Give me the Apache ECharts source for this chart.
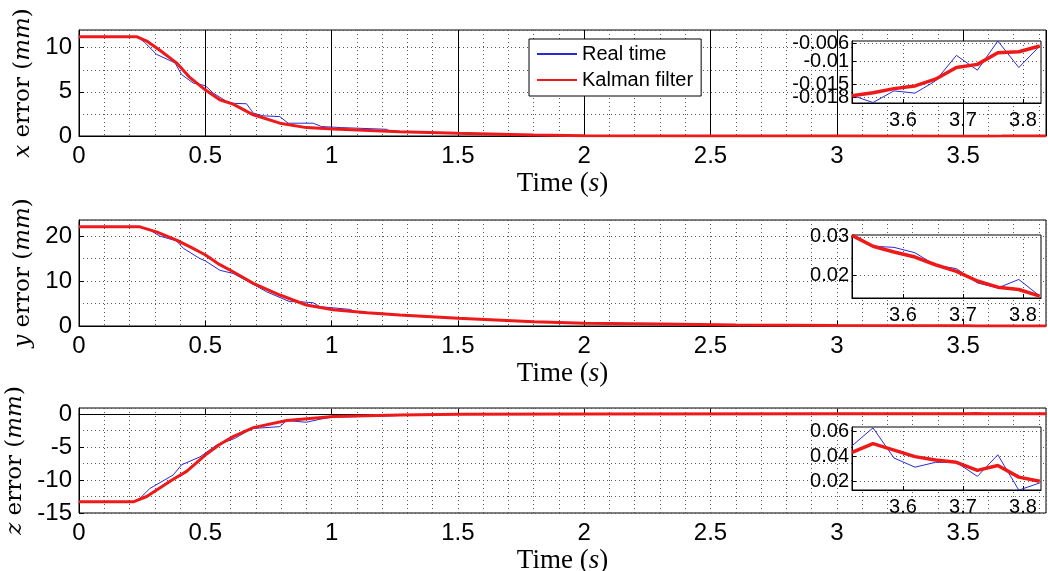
<!DOCTYPE html>
<html>
<head>
<meta charset="utf-8">
<script src="https://cdn.jsdelivr.net/npm/echarts@6/dist/echarts.min.js"></script>
<style>html,body{margin:0;padding:0;background:#fff;}#c{width:1048px;height:571px;}</style>
</head>
<body>
<div id="c"></div>
<script>
// ---------- DATA ----------
// inset (tail) time samples
var tailTime = [3.515, 3.55, 3.585, 3.62, 3.654, 3.689, 3.724, 3.758, 3.793, 3.828];
var xTailReal = [-0.0175, -0.0191, -0.0165, -0.0170, -0.0143, -0.0086, -0.0119, -0.0054, -0.0113, -0.0065];
var xTailKal  = [-0.0176, -0.0169, -0.0160, -0.0154, -0.0139, -0.0113, -0.0106, -0.0080, -0.0078, -0.0065];
var yTailReal = [0.0304, 0.0276, 0.0273, 0.0259, 0.0227, 0.0218, 0.0181, 0.0168, 0.0190, 0.0147];
var yTailKal  = [0.0304, 0.0276, 0.0261, 0.0248, 0.0228, 0.0211, 0.0186, 0.0170, 0.0164, 0.0147];
var zTailReal = [0.0485, 0.0630, 0.0387, 0.0313, 0.0352, 0.0352, 0.0239, 0.0413, 0.0128, 0.0186];
var zTailKal  = [0.0432, 0.0503, 0.0451, 0.0398, 0.0371, 0.0352, 0.0287, 0.0326, 0.0233, 0.0199];

// main panels (before the tail)
var xRealTime = [0, 0.23, 0.26, 0.307, 0.38, 0.406, 0.452, 0.50, 0.531, 0.584, 0.61, 0.663, 0.69, 0.729, 0.795, 0.828, 0.927, 0.96, 1.04, 1.218, 1.23, 1.4, 1.6, 1.8, 2.0, 2.5, 3.0];
var xRealVal  = [11.25, 11.25, 10.6, 9.24, 8.28, 6.96, 6.0, 5.7, 4.87, 3.91, 3.7, 3.65, 2.59, 2.28, 2.2, 1.45, 1.45, 1.07, 0.95, 0.76, 0.55, 0.35, 0.2, 0.1, 0.05, 0.01, -0.005];
var xKalTime  = [0, 0.228, 0.268, 0.32, 0.386, 0.436, 0.501, 0.557, 0.61, 0.69, 0.795, 0.90, 1.006, 1.27, 1.5, 1.8, 2.0, 2.5, 3.0];
var xKalVal   = [11.25, 11.25, 10.75, 9.7, 8.28, 6.7, 5.2, 4.1, 3.6, 2.4, 1.45, 0.95, 0.8, 0.49, 0.3, 0.11, 0.04, 0.0, -0.01];

var yRealTime = [0, 0.24, 0.282, 0.32, 0.386, 0.413, 0.479, 0.5, 0.558, 0.61, 0.68, 0.743, 0.835, 0.874, 0.927, 0.954, 1.072, 1.105, 1.21, 1.24, 1.5, 1.8, 2.0, 2.5, 3.0];
var yRealVal  = [22.07, 22.07, 21.3, 20.0, 18.96, 17.3, 15.0, 14.5, 12.4, 11.7, 9.6, 7.6, 5.4, 5.4, 5.18, 4.3, 3.7, 2.96, 2.81, 2.44, 1.7, 0.96, 0.59, 0.3, 0.15];
var yKalTime  = [0, 0.241, 0.307, 0.386, 0.44, 0.501, 0.55, 0.61, 0.69, 0.795, 0.9, 1.006, 1.14, 1.27, 1.5, 1.8, 2.0, 2.3, 2.6, 3.0];
var yKalVal   = [22.07, 22.07, 20.96, 19.1, 17.6, 15.8, 13.9, 12.07, 9.5, 6.9, 4.67, 3.6, 2.96, 2.44, 1.7, 0.96, 0.59, 0.44, 0.25, 0.1];

var zRealTime = [0, 0.215, 0.241, 0.28, 0.373, 0.406, 0.479, 0.545, 0.617, 0.663, 0.69, 0.795, 0.822, 0.9, 0.954, 1.0, 1.218, 1.3, 1.5, 2.0, 3.0];
var zRealVal  = [-13.3, -13.3, -12.8, -11.3, -9.24, -7.7, -6.5, -4.7, -3.7, -2.68, -2.2, -1.92, -1.0, -1.26, -0.8, -0.5, -0.3, -0.2, -0.1, 0.0, 0.02];
var zKalTime  = [0, 0.215, 0.268, 0.373, 0.426, 0.501, 0.558, 0.61, 0.69, 0.822, 1.006, 1.27, 1.5, 2.0, 3.0];
var zKalVal   = [-13.3, -13.3, -12.5, -9.9, -8.7, -6.2, -4.6, -3.43, -2.07, -1.0, -0.4, -0.15, -0.05, 0.0, 0.03];

// inset tick labels (x inset split over two label sets since they overlap in the original)
var xLabelTicksA = [-0.018, -0.01];
var xLabelTicksB = [-0.015, -0.006];
var yLabelTicks = [0.02, 0.03];
var zLabelTicks = [0.02, 0.04, 0.06];
var insetXTicks = [3.6, 3.7, 3.8];
var axisNames = ['x', 'y', 'z'];

// ---------- BUILD ----------
function pairs(t, v) { return t.map(function (tt, i) { return [tt, v[i]]; }); }
function withTail(t, v, tv) { return pairs(t.concat(tailTime), v.concat(tv)); }

var BLUE = '#2a2ad4', RED = '#ee1a1a';
var dotted = { color: '#555', width: 1, type: [1, 3] };
var sans = 'Liberation Sans', serif = 'Liberation Serif', wideSerif = 'DejaVu Serif';

var mainGrids = [
  { left: 79, top: 30, width: 967, height: 106 },
  { left: 79, top: 220, width: 967, height: 106 },
  { left: 79, top: 408, width: 967, height: 105 }
];
var insetGrids = [
  { left: 852, top: 41, width: 189, height: 62 },
  { left: 852, top: 235, width: 189, height: 63 },
  { left: 852, top: 427, width: 189, height: 63 }
];
var gridBase = { show: true, borderColor: '#000', borderWidth: 1, backgroundColor: '#fff', containLabel: false, outerBoundsMode: 'none' };
var grids = [];
mainGrids.forEach(function (g) { grids.push(Object.assign({}, gridBase, g)); });
insetGrids.forEach(function (g) { grids.push(Object.assign({}, gridBase, { z: 5 }, g)); });

var yRanges = [
  { min: 0, max: 12, interval: 5 },
  { min: 0, max: 23.6, interval: 10 },
  { min: -15, max: 0.9, interval: 5 }
];
var insetY = [
  { min: -0.0192, max: -0.0054, ticks: xLabelTicksA },
  { min: 0.0142, max: 0.0305, ticks: yLabelTicks },
  { min: 0.0129, max: 0.0637, ticks: zLabelTicks }
];

var xAxes = [], yAxes = [];
for (var i = 0; i < 3; i++) {
  xAxes.push({
    type: 'value', gridIndex: i, min: 0, max: 3.828, interval: 0.5,
    name: 'Time ({i|s})', nameLocation: 'middle', nameGap: 34,
    nameTextStyle: { fontFamily: serif, fontSize: 27, color: '#000',
      rich: { i: { fontFamily: serif, fontStyle: 'italic', fontSize: 27, color: '#000' } } },
    axisLine: { show: true, lineStyle: { color: '#000', width: 1 } },
    axisTick: { show: true, inside: true, length: 5, lineStyle: { color: '#000' } },
    axisLabel: { fontFamily: sans, fontSize: 24, color: '#000', margin: 8, showMaxLabel: false },
    splitLine: { show: true, lineStyle: i === 0 ? { color: '#000', width: 1, type: 'solid' } : dotted },
    minorTick: { show: false, splitNumber: 5 },
    minorSplitLine: { show: true, lineStyle: dotted }
  });
  yAxes.push({
    type: 'value', gridIndex: i, min: yRanges[i].min, max: yRanges[i].max, interval: yRanges[i].interval,
    name: '{i|' + axisNames[i] + '} error ({i|mm})', nameLocation: 'middle', nameGap: 38,
    nameTextStyle: { fontFamily: wideSerif, fontSize: 23, color: '#000',
      rich: { i: { fontFamily: wideSerif, fontStyle: 'italic', fontSize: 23, color: '#000' } } },
    axisLine: { show: true, lineStyle: { color: '#000', width: 1 } },
    axisTick: { show: true, inside: true, length: 5, lineStyle: { color: '#000' } },
    axisLabel: { fontFamily: sans, fontSize: 24, color: '#000', margin: 7, showMaxLabel: false },
    splitLine: { show: true, lineStyle: dotted },
    minorTick: { show: false, splitNumber: 2 },
    minorSplitLine: { show: true, lineStyle: dotted }
  });
}
function insetYAxis(gridIdx, range, ticks, showSplit) {
  return {
    type: 'value', gridIndex: gridIdx, position: 'left', offset: 0, min: range.min, max: range.max, z: 6,
    axisLine: { show: true, lineStyle: { color: '#000', width: 1 } },
    axisTick: { show: true, inside: true, length: 4, customValues: ticks, lineStyle: { color: '#000' } },
    axisLabel: { fontFamily: sans, fontSize: 20, color: '#000', margin: 3, customValues: ticks,
      hideOverlap: false, showMinLabel: true, showMaxLabel: true },
    splitLine: { show: showSplit, lineStyle: dotted }
  };
}
for (var j = 0; j < 3; j++) {
  xAxes.push({
    type: 'value', gridIndex: 3 + j, min: 3.515, max: 3.83, z: 6,
    axisLine: { show: true, lineStyle: { color: '#000', width: 1 } },
    axisTick: { show: true, inside: true, length: 4, customValues: insetXTicks, lineStyle: { color: '#000' } },
    axisLabel: { fontFamily: sans, fontSize: 20, color: '#000', margin: 7, customValues: insetXTicks,
      hideOverlap: false, showMinLabel: true, showMaxLabel: true },
    splitLine: { show: true, lineStyle: dotted }
  });
  yAxes.push(insetYAxis(3 + j, insetY[j], insetY[j].ticks, true));
}
// second label set for the x-error inset (index 6)
yAxes.push(insetYAxis(3, insetY[0], xLabelTicksB, true));

function line(name, idx, data, color, width, z) {
  return { name: name, type: 'line', xAxisIndex: idx, yAxisIndex: idx, data: data,
    symbol: 'none', smooth: false, z: z || 2,
    lineStyle: { color: color, width: width }, itemStyle: { color: color } };
}

var series = [
  line('Real time', 0, withTail(xRealTime, xRealVal, xTailReal), BLUE, 1),
  line('Kalman filter', 0, withTail(xKalTime, xKalVal, xTailKal), RED, 3),
  line('Real time', 1, withTail(yRealTime, yRealVal, yTailReal), BLUE, 1),
  line('Kalman filter', 1, withTail(yKalTime, yKalVal, yTailKal), RED, 3),
  line('Real time', 2, withTail(zRealTime, zRealVal, zTailReal), BLUE, 1),
  line('Kalman filter', 2, withTail(zKalTime, zKalVal, zTailKal), RED, 3),
  line('Real time', 3, pairs(tailTime, xTailReal), BLUE, 1, 7),
  line('Kalman filter', 3, pairs(tailTime, xTailKal), RED, 3.5, 8),
  line('Real time', 4, pairs(tailTime, yTailReal), BLUE, 1, 7),
  line('Kalman filter', 4, pairs(tailTime, yTailKal), RED, 3.5, 8),
  line('Real time', 5, pairs(tailTime, zTailReal), BLUE, 1, 7),
  line('Kalman filter', 5, pairs(tailTime, zTailKal), RED, 3.5, 8)
];

var chart = echarts.init(document.getElementById('c'), null, { renderer: 'canvas' });
chart.setOption({
  animation: false,
  backgroundColor: '#fff',
  grid: grids,
  xAxis: xAxes,
  yAxis: yAxes,
  legend: {
    orient: 'vertical', left: 529, top: 39, data: ['Real time', 'Kalman filter'],
    backgroundColor: '#fff', borderColor: '#000', borderWidth: 1, borderRadius: 0,
    padding: [5, 8, 6, 7], itemWidth: 40, itemHeight: 14, itemGap: 6,
    selectedMode: false, z: 10,
    textStyle: { fontFamily: sans, fontSize: 20, color: '#000' },
    itemStyle: { color: 'rgba(0,0,0,0)', borderWidth: 0, opacity: 0 }
  },
  series: series
});
</script>
</body>
</html>
